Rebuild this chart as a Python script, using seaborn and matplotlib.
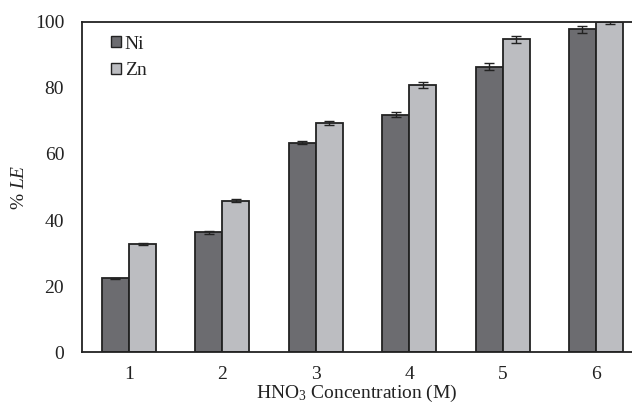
import numpy as np
import pandas as pd
import matplotlib
matplotlib.use("Agg")
import matplotlib.pyplot as plt
import seaborn as sns

concentrations = ["1", "2", "3", "4", "5", "6"]
ni_values = [22.4, 36.3, 63.4, 71.9, 86.4, 97.7]
zn_values = [32.7, 45.9, 69.5, 80.8, 94.7, 100.0]
ni_err = [0.2, 0.4, 0.5, 0.7, 1.0, 1.0]
zn_err = [0.3, 0.4, 0.6, 0.9, 1.05, 0.7]
metals = ["Ni", "Zn"]

df = pd.DataFrame({
    "conc": concentrations * 2,
    "metal": ["Ni"] * 6 + ["Zn"] * 6,
    "le": ni_values + zn_values,
    "err": ni_err + zn_err,
})

sns.set_theme(style="white")
plt.rcParams["font.family"] = ["Liberation Serif", "DejaVu Serif"]
plt.rcParams["mathtext.fontset"] = "custom"
plt.rcParams["mathtext.rm"] = "Liberation Serif"
plt.rcParams["mathtext.it"] = "Liberation Serif:italic"

FS = 14
fig = plt.figure(figsize=(6.32, 4.09), dpi=100)
ax = fig.add_axes([0.1302, 0.1386, 0.8698, 0.8084])

palette = {"Ni": "#6c6c70", "Zn": "#bcbdc1"}
sns.barplot(data=df, x="conc", y="le", hue="metal", hue_order=metals,
            palette=palette, width=0.58, gap=0, errorbar=None,
            edgecolor="#222222", linewidth=1.3, saturation=1, ax=ax)

# error bars placed on the seaborn bars
for container, metal in zip(ax.containers, metals):
    sub = df[df.metal == metal]
    xs = [p.get_x() + p.get_width() / 2 for p in container.patches]
    ax.errorbar(xs, sub["le"].values, yerr=sub["err"].values, fmt="none",
                ecolor="#222222", elinewidth=1.0, capsize=3.5, capthick=1.0,
                zorder=5, clip_on=True)

ax.set_ylim(0, 100)
ax.set_xlim(-0.5, 5.385)
ax.set_yticks([0, 20, 40, 60, 80, 100])
ax.tick_params(axis="both", direction="out", length=5, width=1.0,
               labelsize=FS, colors="#222222")
ax.tick_params(axis="y", pad=8)
ax.tick_params(axis="x", pad=5)
for s in ["left", "bottom", "top"]:
    ax.spines[s].set_color("#222222")
    ax.spines[s].set_linewidth(1.3)
ax.spines["right"].set_visible(False)

ax.set_xlabel("HNO$_3$ Concentration (M)", fontsize=FS, color="#222222", labelpad=0)
ax.set_ylabel(r"% $\mathit{LE}$", fontsize=FS, color="#222222", labelpad=5)

leg = ax.legend(loc="upper left", bbox_to_anchor=(0.176, 0.913),
                bbox_transform=fig.transFigure, frameon=False,
                fontsize=FS, handlelength=0.5, handleheight=0.5,
                handletextpad=0.2, labelspacing=0.5, borderpad=0,
                borderaxespad=0)
for h in leg.legend_handles:
    h.set_edgecolor("#222222")
    h.set_linewidth(1.0)
for t in leg.get_texts():
    t.set_color("#222222")

fig.savefig("out.png", dpi=100)
